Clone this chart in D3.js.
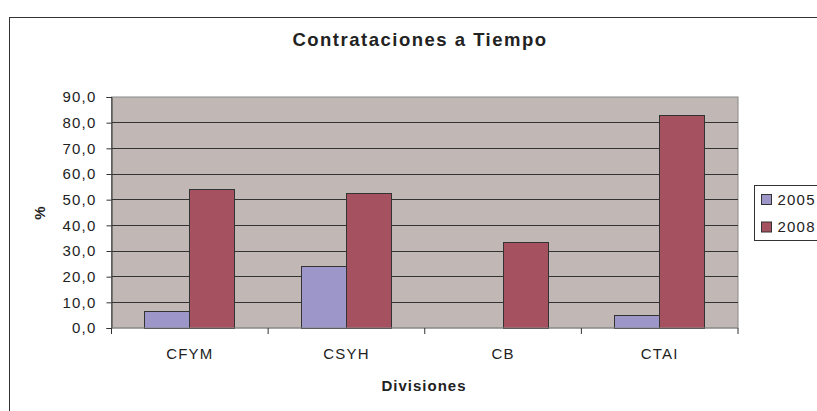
<!DOCTYPE html>
<meta charset="utf-8">
<head>
<style>
body { margin: 0; background: #fff; font-family: "Liberation Sans", Arial, sans-serif; }
.grid line { stroke: #333; stroke-width: 1px; shape-rendering: crispEdges; }
.bar { stroke: #333; stroke-width: 1px; shape-rendering: crispEdges; }
.tick text { fill: #222; }
</style>
<script src="https://d3js.org/d3.v7.min.js"></script>
</head>
<body>
<div id="chart"></div>
<script>

// data
var divisiones = ["CFYM", "CSYH", "CB", "CTAI"];
var years = ["2005", "2008"];
var val2005 = [6.5, 24.0, null, 4.9];
var val2008 = [54.0, 52.5, 33.3, 82.6];
var yTicks = [0, 10, 20, 30, 40, 50, 60, 70, 80, 90];
var colors = {"2005": "#9d97c9", "2008": "#a6515f"};

var W = 817, H = 411;
var plot = {left: 111.5, top: 97, right: 738, bottom: 328};

var svg = d3.select("#chart").append("svg")
  .attr("width", W)
  .attr("height", H);

// outer frame (runs off right and bottom)
svg.append("rect")
  .attr("x", 9.5).attr("y", 17.5)
  .attr("width", 900).attr("height", 500)
  .attr("fill", "none")
  .attr("stroke", "#333")
  .attr("stroke-width", 1);

svg.append("text")
  .attr("x", 420).attr("y", 46)
  .attr("text-anchor", "middle")
  .style("font-size", "18.5px")
  .style("font-weight", "bold")
  .style("letter-spacing", "1.5px")
  .attr("fill", "#222")
  .text("Contrataciones a Tiempo");

var x0 = d3.scaleBand()
  .domain(divisiones)
  .range([plot.left, plot.right])
  .paddingInner(0).paddingOuter(0);

var x1 = d3.scaleBand()
  .domain(years)
  .range([0, x0.bandwidth()])
  .paddingInner(0)
  .paddingOuter(0.74);

var y = d3.scaleLinear()
  .domain([0, 90])
  .range([plot.bottom, plot.top]);

// plot background
svg.append("rect")
  .attr("x", plot.left).attr("y", plot.top)
  .attr("width", plot.right - plot.left)
  .attr("height", plot.bottom - plot.top)
  .attr("fill", "#c1b8b5")
  .attr("stroke", "#888")
  .attr("stroke-width", 1);

svg.append("g")
  .attr("class", "grid")
  .selectAll("line")
  .data(yTicks.filter(function(d) { return d > 0 && d < 90; }))
  .enter().append("line")
    .attr("x1", plot.left).attr("x2", plot.right)
    .attr("y1", function(d) { return y(d); })
    .attr("y2", function(d) { return y(d); });

////bars
var rows = divisiones.map(function(d, i) {
  return {name: d, values: [
    {year: "2005", value: val2005[i]},
    {year: "2008", value: val2008[i]}
  ]};
});

svg.selectAll("groups")
  .data(rows)
  .enter().append("g")
    .attr("transform", function(d) { return "translate(" + x0(d.name) + ",0)"; })
  .selectAll("rect")
  .data(function(d) { return d.values.filter(function(v) { return v.value != null; }); })
  .enter().append("rect")
    .attr("class", "bar")
    .attr("x", function(d) { return x1(d.year); })
    .attr("width", x1.bandwidth())
    .attr("y", function(d) { return y(d.value); })
    .attr("height", function(d) { return y(0) - y(d.value); })
    .attr("fill", function(d) { return colors[d.year]; });

// y axis
var yAxis = svg.append("g")
  .attr("transform", "translate(" + plot.left + ",0)")
  .call(d3.axisLeft(y).tickValues(yTicks).tickSize(5).tickPadding(10)
    .tickFormat(function(d) { return d.toFixed(1).replace(".", ","); }));
yAxis.selectAll("text")
  .style("font-size", "15px")
  .style("letter-spacing", "1.2px")
  .style("font-family", "Liberation Sans, Arial, sans-serif");
yAxis.select(".domain").attr("stroke", "#333");
yAxis.selectAll(".tick line").attr("stroke", "#333");

// x axis, ticks at category boundaries
var xAxis = svg.append("g")
  .attr("transform", "translate(0," + plot.bottom + ")");
xAxis.append("line")
  .attr("x1", plot.left).attr("x2", plot.right)
  .attr("stroke", "#888");
xAxis.selectAll("ticks")
  .data(divisiones.concat(["end"]))
  .enter().append("line")
    .attr("x1", function(d, i) { return plot.left + i * x0.step(); })
    .attr("x2", function(d, i) { return plot.left + i * x0.step(); })
    .attr("y1", 0).attr("y2", 6)
    .attr("stroke", "#333");
xAxis.selectAll("labels")
  .data(divisiones)
  .enter().append("text")
    .attr("x", function(d) { return x0(d) + x0.bandwidth() / 2; })
    .attr("y", 31)
    .attr("text-anchor", "middle")
    .style("font-size", "15px")
    .style("letter-spacing", "1.2px")
    .attr("fill", "#222")
    .text(function(d) { return d; });

svg.append("text")
  .attr("x", 424).attr("y", 391)
  .attr("text-anchor", "middle")
  .style("font-size", "15px")
  .style("font-weight", "bold")
  .style("letter-spacing", "1px")
  .attr("fill", "#222")
  .text("Divisiones");

svg.append("text")
  .attr("transform", "translate(45,213) rotate(-90)")
  .attr("text-anchor", "middle")
  .style("font-size", "15px")
  .style("font-weight", "bold")
  .attr("fill", "#222")
  .text("%");

///legend
var legend = svg.append("g");
legend.append("rect")
  .attr("x", 754.5).attr("y", 185.5)
  .attr("width", 100).attr("height", 55)
  .attr("fill", "#fff")
  .attr("stroke", "#333");
var items = legend.selectAll("items")
  .data(years)
  .enter().append("g")
    .attr("transform", function(d, i) { return "translate(761.5," + (194.5 + i * 27.5) + ")"; });
items.append("rect")
  .attr("width", 10).attr("height", 10)
  .attr("fill", function(d) { return colors[d]; })
  .attr("stroke", "#333");
items.append("text")
  .attr("x", 16).attr("y", 10)
  .style("font-size", "15px")
  .style("letter-spacing", "1.2px")
  .attr("fill", "#222")
  .text(function(d) { return d; });

</script>
</body>
</html>
